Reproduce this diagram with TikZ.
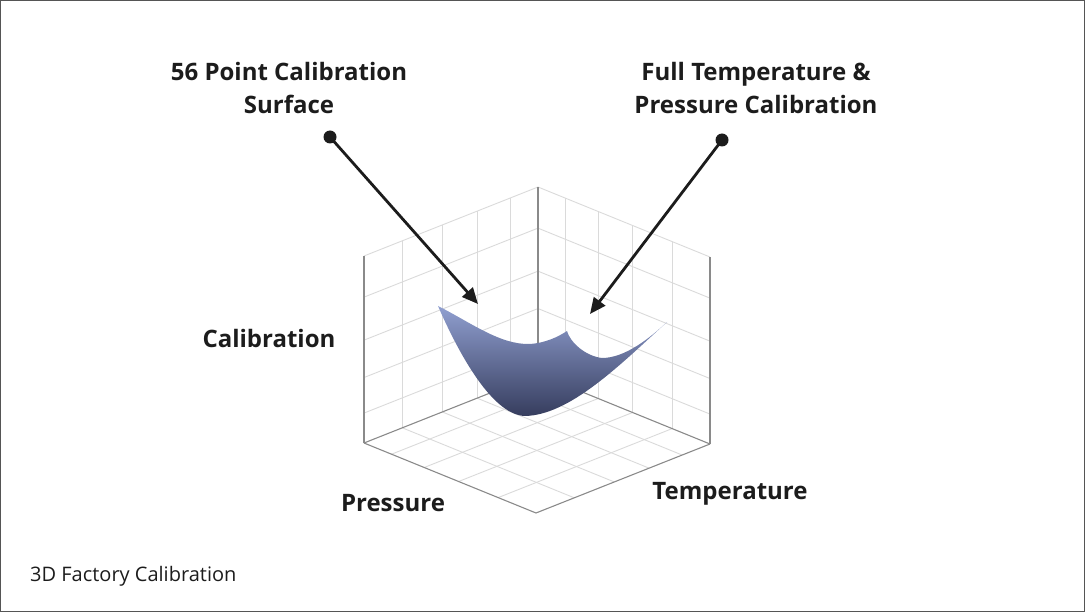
\documentclass[tikz,border=0pt]{standalone}
\usepackage{fontspec}
\setmainfont{Open Sans}
\usetikzlibrary{arrows.meta}
\definecolor{gridc}{HTML}{DADADA}
\definecolor{edgec}{HTML}{8A8A8A}
\definecolor{ink}{HTML}{1C1C1C}
\definecolor{surftop}{HTML}{909FD0}
\definecolor{surfbot}{HTML}{363D5E}
\definecolor{framec}{HTML}{555555}
\tikzset{
  gridline/.style={draw=gridc, line width=0.9pt},
  edgeline/.style={draw=edgec, line width=1.1pt},
  lab/.style={font=\bfseries\fontsize{24}{33}\selectfont, text=ink, align=center, inner sep=0pt},
  pointer/.style={draw=ink, line width=2.8pt, -{Triangle[length=16pt,width=14pt]}},
  dotc/.style={circle, fill=ink, minimum size=13pt, inner sep=0pt}
}
\begin{document}
\begin{tikzpicture}[x=1pt,y=-1pt]
\useasboundingbox (0,0) rectangle (1085,612);
\draw[framec, line width=1pt] (0.5,0.5) rectangle (1084.5,611.5);
% grid: O=(538,374), A=(-174,69), B=(172,70), C=(0,-187)
\foreach \f in {0.16,0.35,0.55,0.78}{
  % left wall
  \draw[gridline] ({538-174*\f},{374+69*\f}) -- ({538-174*\f},{187+69*\f});
  \draw[gridline] (538,{374-187*\f}) -- (364,{443-187*\f});
  % right wall
  \draw[gridline] ({538+172*\f},{374+70*\f}) -- ({538+172*\f},{187+70*\f});
  \draw[gridline] (538,{374-187*\f}) -- (710,{444-187*\f});
  % floor
  \draw[gridline] ({538-174*\f},{374+69*\f}) -- ({710-174*\f},{444+69*\f});
  \draw[gridline] ({538+172*\f},{374+70*\f}) -- ({364+172*\f},{443+70*\f});
}
\draw[gridline] (364,256) -- (538,187) -- (710,257);
\coordinate (O) at (538,374);
\coordinate (Ot) at (538,187);
\coordinate (L) at (364,443);
\coordinate (Lt) at (364,256);
\coordinate (R) at (710,444);
\coordinate (Rt) at (710,257);
\coordinate (F) at (536,513);
\draw[edgeline] (O) -- (Ot);
\draw[edgeline] (L) -- (Lt);
\draw[edgeline] (R) -- (Rt);
\draw[edgeline] (L) -- (O) -- (R);
\draw[edgeline] (L) -- (F) -- (R);
% surface
\shade[top color=surftop, bottom color=surfbot]
  (438,306) .. controls (470,322) and (500,345) .. (530,344)
  .. controls (545,343) and (558,337) .. (567,331)
  .. controls (570,342) and (585,356) .. (602,358)
  .. controls (625,358) and (650,338) .. (667,322)
  .. controls (620,365) and (570,415) .. (525,416)
  .. controls (490,415) and (455,345) .. (438,306) -- cycle;
% labels
\node[lab] (t1) at (289,88.5) {56 Point Calibration\\Surface};
\node[lab] (t2) at (756,88.5) {Full Temperature \&\\Pressure Calibration};
\node[lab] (cal) at (269,339) {Calibration};
\node[lab] (pre) at (393,503) {Pressure};
\node[lab] (tem) at (730,494) {Temperature};
\node[anchor=west, font=\fontsize{20}{24}\selectfont, text=ink, inner sep=0pt] (cap) at (30,576) {3D Factory Calibration};
% pointers
\node[dotc] (d1) at (330,137) {};
\node[dotc] (d2) at (722,140) {};
\coordinate (p1) at (478,304);
\coordinate (p2) at (590,314);
\draw[pointer] (d1.center) -- (p1);
\draw[pointer] (d2.center) -- (p2);
\end{tikzpicture}
\end{document}
